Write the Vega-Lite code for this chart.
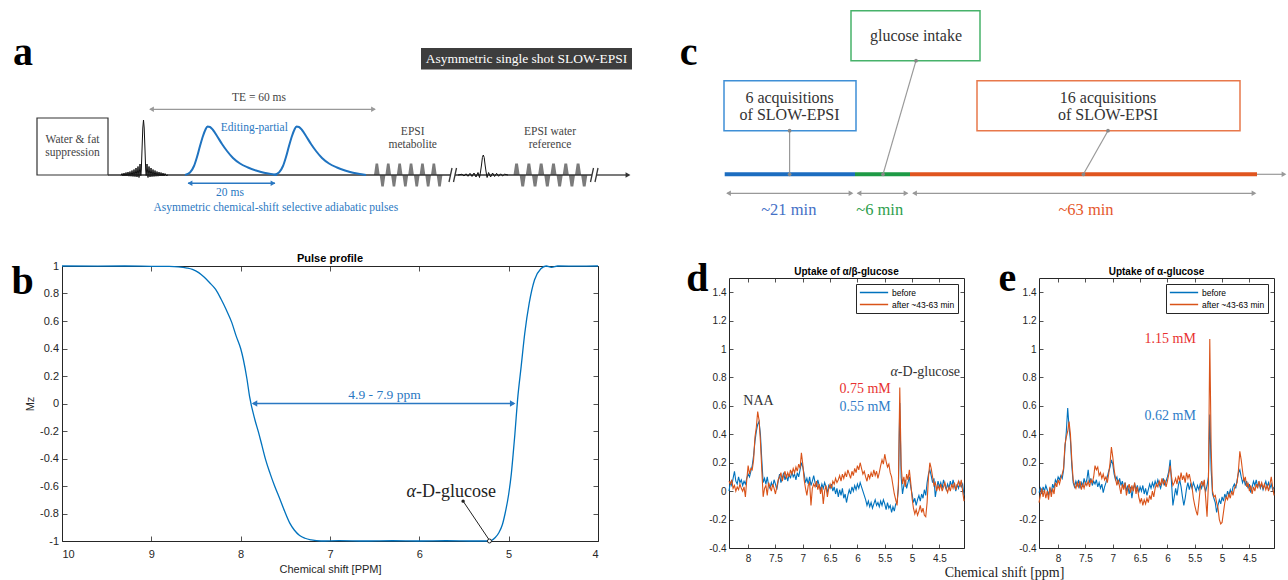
{
  "$schema": "https://vega.github.io/schema/vega-lite/v6.json",
  "padding": 0,
  "background": "white",
  "bounds": "flush",
  "spacing": 36,
  "resolve": {"scale": {"color": "independent", "stroke": "independent", "fill": "independent", "shape": "independent"}, "legend": {"color": "independent"}},
  "config": {
    "view": {"stroke": "#262626", "strokeWidth": 1},
    "axis": {"grid": false, "domain": false, "tickSize": -5, "tickWidth": 0.8, "tickColor": "#262626", "labelColor": "#262626", "labelFont": "Liberation Sans", "titleFont": "Liberation Sans", "titleFontWeight": "normal", "titleColor": "#262626"},
    "title": {"font": "Liberation Sans", "fontWeight": "bold", "color": "#000000", "anchor": "middle"}
  },
  "datasets": {
    "specD": [
      {"ppm":8.35,"before":0.0,"after":0.07},{"ppm":8.325,"before":0.06,"after":0.05},{"ppm":8.3,"before":0.04,"after":0.08},{"ppm":8.275,"before":0.09,"after":0.02},{"ppm":8.25,"before":0.14,"after":0.04},{"ppm":8.225,"before":0.07,"after":0.0},{"ppm":8.2,"before":0.05,"after":0.03},{"ppm":8.175,"before":0.1,"after":0.01},{"ppm":8.15,"before":0.06,"after":0.05},{"ppm":8.125,"before":0.08,"after":0.02},{"ppm":8.1,"before":0.04,"after":0.0},{"ppm":8.075,"before":0.07,"after":0.03},{"ppm":8.05,"before":0.05,"after":-0.04},{"ppm":8.025,"before":0.09,"after":0.08},{"ppm":8.0,"before":0.12,"after":0.18},{"ppm":7.975,"before":0.1,"after":0.12},{"ppm":7.95,"before":0.14,"after":0.16},{"ppm":7.925,"before":0.18,"after":0.15},{"ppm":7.9,"before":0.25,"after":0.22},{"ppm":7.875,"before":0.35,"after":0.38},{"ppm":7.85,"before":0.42,"after":0.45},{"ppm":7.825,"before":0.47,"after":0.56},{"ppm":7.8,"before":0.49,"after":0.5},{"ppm":7.775,"before":0.4,"after":0.35},{"ppm":7.75,"before":0.22,"after":0.15},{"ppm":7.725,"before":0.06,"after":-0.04},{"ppm":7.7,"before":0.09,"after":0.02},{"ppm":7.675,"before":0.05,"after":0.04},{"ppm":7.65,"before":0.1,"after":-0.03},{"ppm":7.625,"before":0.04,"after":0.06},{"ppm":7.6,"before":0.02,"after":0.03},{"ppm":7.575,"before":0.06,"after":0.0},{"ppm":7.55,"before":0.03,"after":0.05},{"ppm":7.525,"before":0.08,"after":0.02},{"ppm":7.5,"before":0.05,"after":-0.02},{"ppm":7.475,"before":0.01,"after":0.03},{"ppm":7.45,"before":0.07,"after":0.08},{"ppm":7.425,"before":0.12,"after":0.1},{"ppm":7.4,"before":0.06,"after":0.13},{"ppm":7.375,"before":0.09,"after":0.07},{"ppm":7.35,"before":0.13,"after":0.11},{"ppm":7.325,"before":0.08,"after":0.14},{"ppm":7.3,"before":0.11,"after":0.09},{"ppm":7.275,"before":0.07,"after":0.13},{"ppm":7.25,"before":0.12,"after":0.1},{"ppm":7.225,"before":0.09,"after":0.15},{"ppm":7.2,"before":0.14,"after":0.12},{"ppm":7.175,"before":0.1,"after":0.16},{"ppm":7.15,"before":0.12,"after":0.13},{"ppm":7.125,"before":0.08,"after":0.17},{"ppm":7.1,"before":0.13,"after":0.14},{"ppm":7.075,"before":0.1,"after":0.19},{"ppm":7.05,"before":0.15,"after":0.16},{"ppm":7.025,"before":0.2,"after":0.27},{"ppm":7.0,"before":0.17,"after":0.19},{"ppm":6.975,"before":0.12,"after":0.08},{"ppm":6.95,"before":0.06,"after":0.02},{"ppm":6.925,"before":0.09,"after":-0.03},{"ppm":6.9,"before":0.05,"after":0.04},{"ppm":6.875,"before":0.1,"after":0.06},{"ppm":6.85,"before":0.04,"after":-0.1},{"ppm":6.825,"before":0.07,"after":0.02},{"ppm":6.8,"before":0.11,"after":0.05},{"ppm":6.775,"before":0.06,"after":0.03},{"ppm":6.75,"before":0.03,"after":0.07},{"ppm":6.725,"before":0.08,"after":0.01},{"ppm":6.7,"before":0.04,"after":0.05},{"ppm":6.675,"before":0.01,"after":-0.02},{"ppm":6.65,"before":0.05,"after":0.03},{"ppm":6.625,"before":0.02,"after":-0.09},{"ppm":6.6,"before":0.06,"after":0.0},{"ppm":6.575,"before":0.03,"after":0.04},{"ppm":6.55,"before":-0.01,"after":-0.04},{"ppm":6.525,"before":0.04,"after":0.02},{"ppm":6.5,"before":0.02,"after":0.05},{"ppm":6.475,"before":0.05,"after":0.02},{"ppm":6.45,"before":0.0,"after":0.07},{"ppm":6.425,"before":0.03,"after":0.05},{"ppm":6.4,"before":-0.02,"after":0.09},{"ppm":6.375,"before":0.02,"after":0.06},{"ppm":6.35,"before":-0.04,"after":0.08},{"ppm":6.325,"before":0.01,"after":0.11},{"ppm":6.3,"before":-0.03,"after":0.07},{"ppm":6.275,"before":0.02,"after":0.12},{"ppm":6.25,"before":-0.05,"after":0.09},{"ppm":6.225,"before":-0.02,"after":0.13},{"ppm":6.2,"before":-0.08,"after":0.1},{"ppm":6.175,"before":-0.03,"after":0.15},{"ppm":6.15,"before":0.01,"after":0.12},{"ppm":6.125,"before":-0.02,"after":0.09},{"ppm":6.1,"before":0.03,"after":0.14},{"ppm":6.075,"before":0.0,"after":0.11},{"ppm":6.05,"before":0.04,"after":0.16},{"ppm":6.025,"before":0.01,"after":0.13},{"ppm":6.0,"before":0.05,"after":0.18},{"ppm":5.975,"before":0.02,"after":0.15},{"ppm":5.95,"before":0.06,"after":0.2},{"ppm":5.925,"before":0.03,"after":0.16},{"ppm":5.9,"before":0.0,"after":0.12},{"ppm":5.875,"before":-0.03,"after":0.14},{"ppm":5.85,"before":-0.06,"after":0.1},{"ppm":5.825,"before":-0.1,"after":0.07},{"ppm":5.8,"before":-0.07,"after":0.12},{"ppm":5.775,"before":-0.11,"after":0.09},{"ppm":5.75,"before":-0.08,"after":0.13},{"ppm":5.725,"before":-0.12,"after":0.1},{"ppm":5.7,"before":-0.09,"after":0.15},{"ppm":5.675,"before":-0.06,"after":0.11},{"ppm":5.65,"before":-0.1,"after":0.14},{"ppm":5.625,"before":-0.08,"after":0.09},{"ppm":5.6,"before":-0.11,"after":0.13},{"ppm":5.575,"before":-0.07,"after":0.18},{"ppm":5.55,"before":-0.1,"after":0.22},{"ppm":5.525,"before":-0.06,"after":0.19},{"ppm":5.5,"before":-0.09,"after":0.26},{"ppm":5.475,"before":-0.13,"after":0.21},{"ppm":5.45,"before":-0.08,"after":0.17},{"ppm":5.425,"before":-0.12,"after":0.19},{"ppm":5.4,"before":-0.1,"after":0.13},{"ppm":5.375,"before":-0.15,"after":0.1},{"ppm":5.35,"before":-0.11,"after":0.04},{"ppm":5.325,"before":-0.14,"after":-0.02},{"ppm":5.3,"before":-0.09,"after":-0.06},{"ppm":5.275,"before":-0.08,"after":-0.1},{"ppm":5.25,"before":0.02,"after":0.05},{"ppm":5.225,"before":0.62,"after":0.73},{"ppm":5.2,"before":0.1,"after":0.18},{"ppm":5.175,"before":-0.02,"after":0.05},{"ppm":5.15,"before":0.04,"after":0.1},{"ppm":5.125,"before":0.08,"after":0.03},{"ppm":5.1,"before":0.02,"after":0.12},{"ppm":5.075,"before":0.06,"after":0.08},{"ppm":5.05,"before":0.1,"after":0.15},{"ppm":5.025,"before":0.03,"after":0.06},{"ppm":5.0,"before":-0.02,"after":-0.05},{"ppm":4.975,"before":-0.08,"after":-0.12},{"ppm":4.95,"before":-0.05,"after":-0.16},{"ppm":4.925,"before":-0.1,"after":-0.13},{"ppm":4.9,"before":-0.06,"after":-0.17},{"ppm":4.875,"before":-0.03,"after":-0.14},{"ppm":4.85,"before":-0.07,"after":-0.1},{"ppm":4.825,"before":-0.02,"after":-0.15},{"ppm":4.8,"before":-0.05,"after":-0.12},{"ppm":4.775,"before":0.01,"after":-0.17},{"ppm":4.75,"before":-0.03,"after":-0.18},{"ppm":4.725,"before":0.06,"after":-0.08},{"ppm":4.7,"before":0.12,"after":0.1},{"ppm":4.675,"before":0.15,"after":0.2},{"ppm":4.65,"before":0.11,"after":0.16},{"ppm":4.625,"before":0.06,"after":0.1},{"ppm":4.6,"before":0.09,"after":0.04},{"ppm":4.575,"before":-0.04,"after":0.06},{"ppm":4.55,"before":0.02,"after":0.0},{"ppm":4.525,"before":0.07,"after":0.04},{"ppm":4.5,"before":0.03,"after":0.01},{"ppm":4.475,"before":0.06,"after":0.05},{"ppm":4.45,"before":0.02,"after":0.0},{"ppm":4.425,"before":0.08,"after":0.03},{"ppm":4.4,"before":0.04,"after":0.06},{"ppm":4.375,"before":0.01,"after":0.02},{"ppm":4.35,"before":0.05,"after":-0.01},{"ppm":4.325,"before":0.02,"after":0.03},{"ppm":4.3,"before":0.07,"after":0.0},{"ppm":4.275,"before":0.03,"after":0.05},{"ppm":4.25,"before":0.08,"after":0.02},{"ppm":4.225,"before":0.04,"after":0.06},{"ppm":4.2,"before":0.0,"after":0.01},{"ppm":4.175,"before":0.05,"after":0.04},{"ppm":4.15,"before":0.02,"after":0.07},{"ppm":4.125,"before":0.06,"after":0.03},{"ppm":4.1,"before":0.03,"after":0.08},{"ppm":4.075,"before":0.05,"after":0.0},{"ppm":4.05,"before":-0.03,"after":-0.07}
    ],
    "specE": [
      {"ppm":8.35,"before":-0.01,"after":-0.08},{"ppm":8.325,"before":0.02,"after":-0.03},{"ppm":8.3,"before":-0.02,"after":0.02},{"ppm":8.275,"before":0.03,"after":-0.04},{"ppm":8.25,"before":0.0,"after":0.01},{"ppm":8.225,"before":0.04,"after":-0.05},{"ppm":8.2,"before":0.01,"after":0.0},{"ppm":8.175,"before":-0.03,"after":-0.06},{"ppm":8.15,"before":0.02,"after":0.03},{"ppm":8.125,"before":-0.01,"after":-0.04},{"ppm":8.1,"before":0.05,"after":0.02},{"ppm":8.075,"before":0.02,"after":-0.02},{"ppm":8.05,"before":0.08,"after":0.06},{"ppm":8.025,"before":0.06,"after":0.03},{"ppm":8.0,"before":0.1,"after":0.08},{"ppm":7.975,"before":0.08,"after":0.05},{"ppm":7.95,"before":0.11,"after":0.09},{"ppm":7.925,"before":0.09,"after":0.12},{"ppm":7.9,"before":0.15,"after":0.16},{"ppm":7.875,"before":0.3,"after":0.33},{"ppm":7.85,"before":0.42,"after":0.38},{"ppm":7.825,"before":0.585,"after":0.42},{"ppm":7.8,"before":0.45,"after":0.49},{"ppm":7.775,"before":0.36,"after":0.4},{"ppm":7.75,"before":0.18,"after":0.22},{"ppm":7.725,"before":0.06,"after":0.08},{"ppm":7.7,"before":0.03,"after":0.04},{"ppm":7.675,"before":0.07,"after":0.02},{"ppm":7.65,"before":0.04,"after":0.06},{"ppm":7.625,"before":0.08,"after":0.03},{"ppm":7.6,"before":0.02,"after":0.07},{"ppm":7.575,"before":0.06,"after":0.01},{"ppm":7.55,"before":0.03,"after":0.05},{"ppm":7.525,"before":0.09,"after":0.02},{"ppm":7.5,"before":0.05,"after":0.06},{"ppm":7.475,"before":0.08,"after":0.04},{"ppm":7.45,"before":0.15,"after":0.07},{"ppm":7.425,"before":0.06,"after":0.03},{"ppm":7.4,"before":0.09,"after":0.08},{"ppm":7.375,"before":0.04,"after":0.06},{"ppm":7.35,"before":0.07,"after":0.1},{"ppm":7.325,"before":0.05,"after":0.18},{"ppm":7.3,"before":0.08,"after":0.15},{"ppm":7.275,"before":0.03,"after":0.17},{"ppm":7.25,"before":0.06,"after":0.11},{"ppm":7.225,"before":0.02,"after":0.13},{"ppm":7.2,"before":0.05,"after":0.09},{"ppm":7.175,"before":-0.01,"after":0.12},{"ppm":7.15,"before":0.03,"after":0.08},{"ppm":7.125,"before":0.06,"after":0.1},{"ppm":7.1,"before":0.1,"after":0.06},{"ppm":7.075,"before":0.14,"after":0.12},{"ppm":7.05,"before":0.17,"after":0.2},{"ppm":7.025,"before":0.22,"after":0.31},{"ppm":7.0,"before":0.19,"after":0.24},{"ppm":6.975,"before":0.12,"after":0.15},{"ppm":6.95,"before":0.08,"after":0.09},{"ppm":6.925,"before":0.1,"after":0.04},{"ppm":6.9,"before":0.05,"after":0.08},{"ppm":6.875,"before":0.09,"after":0.03},{"ppm":6.85,"before":0.04,"after":-0.02},{"ppm":6.825,"before":0.07,"after":0.05},{"ppm":6.8,"before":0.02,"after":0.01},{"ppm":6.775,"before":0.06,"after":0.06},{"ppm":6.75,"before":0.0,"after":-0.03},{"ppm":6.725,"before":0.04,"after":0.02},{"ppm":6.7,"before":-0.02,"after":0.05},{"ppm":6.675,"before":0.03,"after":-0.01},{"ppm":6.65,"before":-0.05,"after":0.04},{"ppm":6.625,"before":0.02,"after":0.0},{"ppm":6.6,"before":0.05,"after":0.06},{"ppm":6.575,"before":0.01,"after":-0.02},{"ppm":6.55,"before":0.04,"after":0.03},{"ppm":6.525,"before":-0.01,"after":-0.04},{"ppm":6.5,"before":0.03,"after":-0.08},{"ppm":6.475,"before":0.0,"after":-0.05},{"ppm":6.45,"before":0.04,"after":-0.1},{"ppm":6.425,"before":-0.02,"after":-0.06},{"ppm":6.4,"before":0.02,"after":-0.09},{"ppm":6.375,"before":-0.03,"after":-0.05},{"ppm":6.35,"before":0.01,"after":-0.08},{"ppm":6.325,"before":0.05,"after":-0.03},{"ppm":6.3,"before":0.02,"after":-0.06},{"ppm":6.275,"before":0.06,"after":0.0},{"ppm":6.25,"before":0.03,"after":-0.04},{"ppm":6.225,"before":0.07,"after":0.02},{"ppm":6.2,"before":0.04,"after":0.05},{"ppm":6.175,"before":0.08,"after":0.03},{"ppm":6.15,"before":0.05,"after":0.07},{"ppm":6.125,"before":0.02,"after":0.04},{"ppm":6.1,"before":0.06,"after":0.09},{"ppm":6.075,"before":0.09,"after":0.05},{"ppm":6.05,"before":0.04,"after":0.08},{"ppm":6.025,"before":0.07,"after":0.03},{"ppm":6.0,"before":0.1,"after":0.07},{"ppm":5.975,"before":0.14,"after":0.12},{"ppm":5.95,"before":0.22,"after":0.18},{"ppm":5.925,"before":0.06,"after":0.1},{"ppm":5.9,"before":-0.1,"after":0.04},{"ppm":5.875,"before":-0.04,"after":0.06},{"ppm":5.85,"before":0.02,"after":0.09},{"ppm":5.825,"before":-0.03,"after":0.05},{"ppm":5.8,"before":0.04,"after":0.11},{"ppm":5.775,"before":0.08,"after":0.07},{"ppm":5.75,"before":0.03,"after":0.13},{"ppm":5.725,"before":-0.04,"after":0.08},{"ppm":5.7,"before":-0.1,"after":0.11},{"ppm":5.675,"before":-0.05,"after":0.06},{"ppm":5.65,"before":0.02,"after":0.13},{"ppm":5.625,"before":0.06,"after":0.09},{"ppm":5.6,"before":0.01,"after":0.12},{"ppm":5.575,"before":0.05,"after":0.07},{"ppm":5.55,"before":0.02,"after":0.03},{"ppm":5.525,"before":0.06,"after":-0.05},{"ppm":5.5,"before":0.03,"after":-0.1},{"ppm":5.475,"before":0.0,"after":-0.14},{"ppm":5.45,"before":0.04,"after":-0.17},{"ppm":5.425,"before":0.01,"after":-0.08},{"ppm":5.4,"before":0.05,"after":0.02},{"ppm":5.375,"before":0.02,"after":0.07},{"ppm":5.35,"before":0.06,"after":0.04},{"ppm":5.325,"before":0.03,"after":0.08},{"ppm":5.3,"before":0.0,"after":-0.05},{"ppm":5.275,"before":0.04,"after":-0.18},{"ppm":5.25,"before":0.1,"after":0.05},{"ppm":5.225,"before":0.54,"after":1.07},{"ppm":5.2,"before":0.15,"after":0.3},{"ppm":5.175,"before":-0.02,"after":0.0},{"ppm":5.15,"before":-0.05,"after":-0.04},{"ppm":5.125,"before":-0.08,"after":-0.03},{"ppm":5.1,"before":-0.15,"after":-0.08},{"ppm":5.075,"before":-0.1,"after":-0.12},{"ppm":5.05,"before":-0.06,"after":-0.2},{"ppm":5.025,"before":-0.09,"after":-0.23},{"ppm":5.0,"before":-0.04,"after":-0.22},{"ppm":4.975,"before":-0.07,"after":-0.15},{"ppm":4.95,"before":-0.02,"after":-0.08},{"ppm":4.925,"before":-0.05,"after":-0.04},{"ppm":4.9,"before":0.0,"after":-0.06},{"ppm":4.875,"before":-0.03,"after":-0.02},{"ppm":4.85,"before":0.01,"after":-0.05},{"ppm":4.825,"before":-0.02,"after":0.0},{"ppm":4.8,"before":0.03,"after":-0.03},{"ppm":4.775,"before":0.05,"after":0.02},{"ppm":4.75,"before":0.02,"after":0.04},{"ppm":4.725,"before":0.08,"after":0.06},{"ppm":4.7,"before":0.13,"after":0.15},{"ppm":4.675,"before":0.15,"after":0.28},{"ppm":4.65,"before":0.1,"after":0.22},{"ppm":4.625,"before":0.06,"after":0.14},{"ppm":4.6,"before":0.09,"after":0.07},{"ppm":4.575,"before":0.04,"after":0.1},{"ppm":4.55,"before":0.07,"after":0.03},{"ppm":4.525,"before":0.02,"after":0.06},{"ppm":4.5,"before":0.05,"after":0.0},{"ppm":4.475,"before":-0.01,"after":0.04},{"ppm":4.45,"before":0.03,"after":-0.02},{"ppm":4.425,"before":0.07,"after":0.03},{"ppm":4.4,"before":0.04,"after":0.0},{"ppm":4.375,"before":0.08,"after":0.05},{"ppm":4.35,"before":0.03,"after":0.02},{"ppm":4.325,"before":0.06,"after":0.07},{"ppm":4.3,"before":0.02,"after":0.03},{"ppm":4.275,"before":0.05,"after":0.06},{"ppm":4.25,"before":0.01,"after":0.02},{"ppm":4.225,"before":0.04,"after":0.05},{"ppm":4.2,"before":0.07,"after":0.01},{"ppm":4.175,"before":0.03,"after":0.04},{"ppm":4.15,"before":0.06,"after":0.0},{"ppm":4.125,"before":0.02,"after":0.05},{"ppm":4.1,"before":0.05,"after":0.1},{"ppm":4.075,"before":0.01,"after":0.03},{"ppm":4.05,"before":0.03,"after":-0.03}
    ]
  },
  "vconcat": [
    {
      "width": 1288,
      "height": 230,
      "view": {"stroke": null},
      "encoding": {
        "x": {"field": "x", "type": "quantitative", "scale": {"domain": [0, 1288], "nice": false, "zero": false}, "axis": null},
        "y": {"field": "y", "type": "quantitative", "scale": {"domain": [0, 230], "reverse": true, "nice": false, "zero": false}, "axis": null}
      },
      "layer": [
        {"data": {"values": [{"x": 421, "x2": 632, "y": 48, "y2": 69.5}]}, "mark": {"type": "rect", "fill": "#3d3d3d"}, "encoding": {"x2": {"field": "x2"}, "y2": {"field": "y2"}}},
        {"data": {"values": [{"x": 37, "x2": 108, "y": 118, "y2": 175}]}, "mark": {"type": "rect", "fill": "white", "stroke": "#333333", "strokeWidth": 1.2}, "encoding": {"x2": {"field": "x2"}, "y2": {"field": "y2"}}},
        {"data": {"values": [{"phase": "before", "x": 724, "x2": 856, "y": 80.7, "y2": 130.7}, {"phase": "intake", "x": 851, "x2": 980, "y": 10.7, "y2": 60.7}, {"phase": "after", "x": 977, "x2": 1240, "y": 80.7, "y2": 130.7}]},
         "mark": {"type": "rect", "fill": "white", "strokeWidth": 1.5},
         "encoding": {"x2": {"field": "x2"}, "y2": {"field": "y2"}, "stroke": {"field": "phase", "type": "nominal", "scale": {"domain": ["before", "intake", "after"], "range": ["#3F8FD6", "#47B26A", "#E8784B"]}, "legend": null}}},
        {"data": {"values": [{"block": "metabolite", "x": 374, "y": 175}, {"block": "metabolite", "x": 375.6, "y": 163.5}, {"block": "metabolite", "x": 378.1, "y": 163.5}, {"block": "metabolite", "x": 379.7, "y": 175}, {"block": "metabolite", "x": 381.3, "y": 186.5}, {"block": "metabolite", "x": 383.8, "y": 186.5}, {"block": "metabolite", "x": 385.4, "y": 175}, {"block": "metabolite", "x": 387.0, "y": 163.5}, {"block": "metabolite", "x": 389.5, "y": 163.5}, {"block": "metabolite", "x": 391.1, "y": 175}, {"block": "metabolite", "x": 392.7, "y": 186.5}, {"block": "metabolite", "x": 395.2, "y": 186.5}, {"block": "metabolite", "x": 396.8, "y": 175}, {"block": "metabolite", "x": 398.4, "y": 163.5}, {"block": "metabolite", "x": 400.9, "y": 163.5}, {"block": "metabolite", "x": 402.5, "y": 175}, {"block": "metabolite", "x": 404.1, "y": 186.5}, {"block": "metabolite", "x": 406.6, "y": 186.5}, {"block": "metabolite", "x": 408.2, "y": 175}, {"block": "metabolite", "x": 409.8, "y": 163.5}, {"block": "metabolite", "x": 412.3, "y": 163.5}, {"block": "metabolite", "x": 413.9, "y": 175}, {"block": "metabolite", "x": 415.5, "y": 186.5}, {"block": "metabolite", "x": 418.0, "y": 186.5}, {"block": "metabolite", "x": 419.6, "y": 175}, {"block": "metabolite", "x": 421.2, "y": 163.5}, {"block": "metabolite", "x": 423.7, "y": 163.5}, {"block": "metabolite", "x": 425.3, "y": 175}, {"block": "metabolite", "x": 426.9, "y": 186.5}, {"block": "metabolite", "x": 429.4, "y": 186.5}, {"block": "metabolite", "x": 431.0, "y": 175}, {"block": "metabolite", "x": 432.6, "y": 163.5}, {"block": "metabolite", "x": 435.1, "y": 163.5}, {"block": "metabolite", "x": 436.7, "y": 175}, {"block": "metabolite", "x": 438.3, "y": 186.5}, {"block": "metabolite", "x": 440.8, "y": 186.5}, {"block": "metabolite", "x": 442.4, "y": 175},
          {"block": "water", "x": 513.5, "y": 175}, {"block": "water", "x": 515.2, "y": 163.5}, {"block": "water", "x": 517.95, "y": 163.5}, {"block": "water", "x": 519.65, "y": 175}, {"block": "water", "x": 521.35, "y": 186.5}, {"block": "water", "x": 524.1, "y": 186.5}, {"block": "water", "x": 525.8, "y": 175}, {"block": "water", "x": 527.5, "y": 163.5}, {"block": "water", "x": 530.25, "y": 163.5}, {"block": "water", "x": 531.95, "y": 175}, {"block": "water", "x": 533.65, "y": 186.5}, {"block": "water", "x": 536.4, "y": 186.5}, {"block": "water", "x": 538.1, "y": 175}, {"block": "water", "x": 539.8, "y": 163.5}, {"block": "water", "x": 542.55, "y": 163.5}, {"block": "water", "x": 544.25, "y": 175}, {"block": "water", "x": 545.95, "y": 186.5}, {"block": "water", "x": 548.7, "y": 186.5}, {"block": "water", "x": 550.4, "y": 175}, {"block": "water", "x": 552.1, "y": 163.5}, {"block": "water", "x": 554.85, "y": 163.5}, {"block": "water", "x": 556.55, "y": 175}, {"block": "water", "x": 558.25, "y": 186.5}, {"block": "water", "x": 561.0, "y": 186.5}, {"block": "water", "x": 562.7, "y": 175}, {"block": "water", "x": 564.4, "y": 163.5}, {"block": "water", "x": 567.15, "y": 163.5}, {"block": "water", "x": 568.85, "y": 175}, {"block": "water", "x": 570.55, "y": 186.5}, {"block": "water", "x": 573.3, "y": 186.5}, {"block": "water", "x": 575.0, "y": 175}, {"block": "water", "x": 576.7, "y": 163.5}, {"block": "water", "x": 579.45, "y": 163.5}, {"block": "water", "x": 581.15, "y": 175}, {"block": "water", "x": 582.85, "y": 186.5}, {"block": "water", "x": 585.6, "y": 186.5}, {"block": "water", "x": 587.3, "y": 175}]},
         "mark": {"type": "area", "color": "#7b7b7b"},
         "encoding": {"y2": {"datum": 175}, "detail": {"field": "block"}}},
        {"data": {"values": [{"x": 108, "y": 175, "x2": 450.5, "y2": 175}, {"x": 455, "y": 175, "x2": 592, "y2": 175}, {"x": 596.5, "y": 175, "x2": 626, "y2": 175}, {"x": 449, "y": 182, "x2": 452, "y2": 168}, {"x": 453.5, "y": 182, "x2": 456.5, "y2": 168}, {"x": 590.5, "y": 182, "x2": 593.5, "y2": 168}, {"x": 595, "y": 182, "x2": 598, "y2": 168}]},
         "mark": {"type": "rule", "color": "#333333", "strokeWidth": 1.3},
         "encoding": {"x2": {"field": "x2"}, "y2": {"field": "y2"}}},
        {"data": {"values": [{"phase": "before", "x": 724.7, "x2": 855, "y": 174.3, "y2": 174.3}, {"phase": "intake", "x": 855, "x2": 910, "y": 174.3, "y2": 174.3}, {"phase": "after", "x": 910, "x2": 1257, "y": 174.3, "y2": 174.3}]},
         "mark": {"type": "rule", "strokeWidth": 4},
         "encoding": {"x2": {"field": "x2"}, "y2": {"field": "y2"}, "color": {"field": "phase", "type": "nominal", "scale": {"domain": ["before", "intake", "after"], "range": ["#1C6DC0", "#1E9A45", "#E0551F"]}, "legend": null}}},
        {"data": {"values": [{"x": 150, "y": 109.3, "x2": 375, "y2": 109.3}, {"x": 727, "y": 193.3, "x2": 852, "y2": 193.3}, {"x": 857.5, "y": 193.3, "x2": 907.5, "y2": 193.3}, {"x": 913, "y": 193.3, "x2": 1255, "y2": 193.3}, {"x": 789.6, "y": 130.7, "x2": 789.6, "y2": 174.3}, {"x": 916, "y": 60.7, "x2": 883, "y2": 174.3}, {"x": 1108, "y": 130.7, "x2": 1083.4, "y2": 174.3}, {"x": 1257, "y": 174.3, "x2": 1283, "y2": 174.3}]},
         "mark": {"type": "rule", "color": "#999999", "strokeWidth": 1.2},
         "encoding": {"x2": {"field": "x2"}, "y2": {"field": "y2"}}},
        {"data": {"values": [{"x": 188, "y": 183.3, "x2": 275, "y2": 183.3}]},
         "mark": {"type": "rule", "color": "#2A78C2", "strokeWidth": 1.5},
         "encoding": {"x2": {"field": "x2"}, "y2": {"field": "y2"}}},
        {"data": {"values": [{"x": 789.6, "y": 130.7}, {"x": 789.6, "y": 174.3}, {"x": 916, "y": 60.7}, {"x": 883, "y": 174.3}, {"x": 1108, "y": 130.7}, {"x": 1083.4, "y": 174.3}]},
         "mark": {"type": "point", "filled": true, "size": 14, "color": "#888888", "opacity": 1}},
        {"data": {"values": [{"x": 628, "y": 175, "dir": "right"}]},
         "mark": {"type": "point", "filled": true, "size": 32, "color": "#333333", "opacity": 1},
         "encoding": {"shape": {"field": "dir", "type": "nominal", "scale": {"domain": ["left", "right"], "range": ["triangle-left", "triangle-right"]}, "legend": null}}},
        {"data": {"values": [{"x": 151.5, "y": 109.3, "dir": "left"}, {"x": 373.5, "y": 109.3, "dir": "right"}, {"x": 728.5, "y": 193.3, "dir": "left"}, {"x": 851, "y": 193.3, "dir": "right"}, {"x": 859, "y": 193.3, "dir": "left"}, {"x": 906, "y": 193.3, "dir": "right"}, {"x": 914.5, "y": 193.3, "dir": "left"}, {"x": 1254, "y": 193.3, "dir": "right"}, {"x": 1284, "y": 174.3, "dir": "right"}]},
         "mark": {"type": "point", "filled": true, "size": 30, "color": "#999999", "opacity": 1},
         "encoding": {"shape": {"field": "dir", "type": "nominal", "scale": {"domain": ["left", "right"], "range": ["triangle-left", "triangle-right"]}, "legend": null}}},
        {"data": {"values": [{"x": 190, "y": 183.3, "dir": "left"}, {"x": 273, "y": 183.3, "dir": "right"}]},
         "mark": {"type": "point", "filled": true, "size": 30, "color": "#2A78C2", "opacity": 1},
         "encoding": {"shape": {"field": "dir", "type": "nominal", "scale": {"domain": ["left", "right"], "range": ["triangle-left", "triangle-right"]}, "legend": null}}},
        {"data": {"values": [
          {"pulse": "excitation", "x": 121, "y": 175.5}, {"pulse": "excitation", "x": 122, "y": 173.5}, {"pulse": "excitation", "x": 123, "y": 176}, {"pulse": "excitation", "x": 124, "y": 173}, {"pulse": "excitation", "x": 125, "y": 176}, {"pulse": "excitation", "x": 126, "y": 172.5}, {"pulse": "excitation", "x": 127, "y": 176}, {"pulse": "excitation", "x": 128, "y": 172}, {"pulse": "excitation", "x": 129, "y": 176.2}, {"pulse": "excitation", "x": 130, "y": 171.5}, {"pulse": "excitation", "x": 131, "y": 176.3}, {"pulse": "excitation", "x": 132, "y": 170.5}, {"pulse": "excitation", "x": 133, "y": 176.5}, {"pulse": "excitation", "x": 134, "y": 169.5}, {"pulse": "excitation", "x": 135, "y": 176.7}, {"pulse": "excitation", "x": 136, "y": 168}, {"pulse": "excitation", "x": 137, "y": 177}, {"pulse": "excitation", "x": 138, "y": 166.5}, {"pulse": "excitation", "x": 139, "y": 177.5}, {"pulse": "excitation", "x": 140, "y": 164}, {"pulse": "excitation", "x": 140.8, "y": 175.5}, {"pulse": "excitation", "x": 141.3, "y": 170}, {"pulse": "excitation", "x": 142, "y": 150}, {"pulse": "excitation", "x": 142.8, "y": 128}, {"pulse": "excitation", "x": 143.5, "y": 120}, {"pulse": "excitation", "x": 144.2, "y": 128}, {"pulse": "excitation", "x": 145, "y": 150}, {"pulse": "excitation", "x": 145.7, "y": 170}, {"pulse": "excitation", "x": 146.2, "y": 175.5}, {"pulse": "excitation", "x": 147, "y": 164}, {"pulse": "excitation", "x": 148, "y": 177.5}, {"pulse": "excitation", "x": 149, "y": 166.5}, {"pulse": "excitation", "x": 150, "y": 177}, {"pulse": "excitation", "x": 151, "y": 168}, {"pulse": "excitation", "x": 152, "y": 176.7}, {"pulse": "excitation", "x": 153, "y": 169.5}, {"pulse": "excitation", "x": 154, "y": 176.5}, {"pulse": "excitation", "x": 155, "y": 170.5}, {"pulse": "excitation", "x": 156, "y": 176.3}, {"pulse": "excitation", "x": 157, "y": 171.5}, {"pulse": "excitation", "x": 158, "y": 176.2}, {"pulse": "excitation", "x": 159, "y": 172}, {"pulse": "excitation", "x": 160, "y": 176}, {"pulse": "excitation", "x": 161, "y": 172.5}, {"pulse": "excitation", "x": 162, "y": 176}, {"pulse": "excitation", "x": 163, "y": 173}, {"pulse": "excitation", "x": 164, "y": 176}, {"pulse": "excitation", "x": 165, "y": 173.5}, {"pulse": "excitation", "x": 166, "y": 175.5}, {"pulse": "excitation", "x": 168, "y": 175},
          {"pulse": "water", "x": 458, "y": 175}, {"pulse": "water", "x": 462, "y": 174.2}, {"pulse": "water", "x": 464, "y": 176}, {"pulse": "water", "x": 466, "y": 173.8}, {"pulse": "water", "x": 468, "y": 176.3}, {"pulse": "water", "x": 470, "y": 173.3}, {"pulse": "water", "x": 472, "y": 176.5}, {"pulse": "water", "x": 474, "y": 173}, {"pulse": "water", "x": 476, "y": 177}, {"pulse": "water", "x": 478, "y": 172.5}, {"pulse": "water", "x": 479.5, "y": 177.5}, {"pulse": "water", "x": 480.5, "y": 172}, {"pulse": "water", "x": 481.5, "y": 165}, {"pulse": "water", "x": 482.4, "y": 157.5}, {"pulse": "water", "x": 483.3, "y": 155}, {"pulse": "water", "x": 484.2, "y": 157.5}, {"pulse": "water", "x": 485.1, "y": 165}, {"pulse": "water", "x": 486.1, "y": 172}, {"pulse": "water", "x": 487.1, "y": 177.5}, {"pulse": "water", "x": 488.6, "y": 172.5}, {"pulse": "water", "x": 490.6, "y": 177}, {"pulse": "water", "x": 492.6, "y": 173}, {"pulse": "water", "x": 494.6, "y": 176.5}, {"pulse": "water", "x": 496.6, "y": 173.3}, {"pulse": "water", "x": 498.6, "y": 176.3}, {"pulse": "water", "x": 500.6, "y": 173.8}, {"pulse": "water", "x": 502.6, "y": 176}, {"pulse": "water", "x": 504.6, "y": 174.2}, {"pulse": "water", "x": 508, "y": 175}]},
         "mark": {"type": "line", "color": "#111111", "strokeWidth": 1},
         "encoding": {"detail": {"field": "pulse"}}},
        {"data": {"values": [
          {"pulse": "first", "x": 185, "y": 175}, {"pulse": "first", "x": 190, "y": 172.5}, {"pulse": "first", "x": 194, "y": 166}, {"pulse": "first", "x": 197, "y": 157}, {"pulse": "first", "x": 200, "y": 146}, {"pulse": "first", "x": 203, "y": 136}, {"pulse": "first", "x": 205.5, "y": 129.5}, {"pulse": "first", "x": 207.5, "y": 126.5}, {"pulse": "first", "x": 210, "y": 127}, {"pulse": "first", "x": 213, "y": 130}, {"pulse": "first", "x": 217, "y": 136}, {"pulse": "first", "x": 222, "y": 144}, {"pulse": "first", "x": 227, "y": 151}, {"pulse": "first", "x": 233, "y": 158}, {"pulse": "first", "x": 240, "y": 163.5}, {"pulse": "first", "x": 248, "y": 167.5}, {"pulse": "first", "x": 256, "y": 170.5}, {"pulse": "first", "x": 264, "y": 172.8}, {"pulse": "first", "x": 274, "y": 174.5}, {"pulse": "first", "x": 277, "y": 175},
          {"pulse": "second", "x": 274, "y": 175}, {"pulse": "second", "x": 279, "y": 172.5}, {"pulse": "second", "x": 283, "y": 166}, {"pulse": "second", "x": 286, "y": 157}, {"pulse": "second", "x": 289, "y": 146}, {"pulse": "second", "x": 292, "y": 136}, {"pulse": "second", "x": 294.5, "y": 129.5}, {"pulse": "second", "x": 296.5, "y": 126.5}, {"pulse": "second", "x": 299, "y": 127}, {"pulse": "second", "x": 302, "y": 130}, {"pulse": "second", "x": 306, "y": 136}, {"pulse": "second", "x": 311, "y": 144}, {"pulse": "second", "x": 316, "y": 151}, {"pulse": "second", "x": 322, "y": 158}, {"pulse": "second", "x": 329, "y": 163.5}, {"pulse": "second", "x": 337, "y": 167.5}, {"pulse": "second", "x": 345, "y": 170.5}, {"pulse": "second", "x": 353, "y": 172.8}, {"pulse": "second", "x": 363, "y": 174.5}, {"pulse": "second", "x": 366, "y": 175}]},
         "mark": {"type": "line", "color": "#1F73C0", "strokeWidth": 2, "interpolate": "monotone"},
         "encoding": {"detail": {"field": "pulse"}}},
        {"data": {"values": [{"x": 23, "y": 65, "label": "a"}, {"x": 688.5, "y": 65, "label": "c"}]},
         "mark": {"type": "text", "font": "Liberation Serif", "fontWeight": "bold", "fontSize": 40, "baseline": "alphabetic", "align": "center", "color": "#000000"},
         "encoding": {"text": {"field": "label"}}},
        {"data": {"values": [{"x": 526.5, "y": 59, "label": "Asymmetric single shot SLOW-EPSI"}]},
         "mark": {"type": "text", "font": "Liberation Serif", "fontSize": 13.5, "baseline": "middle", "align": "center", "color": "#ffffff"},
         "encoding": {"text": {"field": "label"}}},
        {"data": {"values": [{"x": 259, "y": 97.5, "label": "TE = 60 ms"}, {"x": 72.5, "y": 140, "label": "Water & fat"}, {"x": 72.5, "y": 153, "label": "suppression"}, {"x": 412.7, "y": 131.5, "label": "EPSI"}, {"x": 412.7, "y": 144.5, "label": "metabolite"}, {"x": 550, "y": 131.5, "label": "EPSI water"}, {"x": 550, "y": 144.5, "label": "reference"}]},
         "mark": {"type": "text", "font": "Liberation Serif", "fontSize": 11.5, "baseline": "middle", "align": "center", "color": "#444444"},
         "encoding": {"text": {"field": "label"}}},
        {"data": {"values": [{"x": 254.3, "y": 128.3, "label": "Editing-partial"}, {"x": 230, "y": 193.3, "label": "20 ms"}, {"x": 275.8, "y": 208.3, "label": "Asymmetric chemical-shift selective adiabatic pulses"}]},
         "mark": {"type": "text", "font": "Liberation Serif", "fontSize": 11.5, "baseline": "middle", "align": "center", "color": "#2A78C2"},
         "encoding": {"text": {"field": "label"}}},
        {"data": {"values": [{"x": 916, "y": 36, "label": "glucose intake"}, {"x": 789.6, "y": 97.7, "label": "6 acquisitions"}, {"x": 789.6, "y": 115, "label": "of SLOW-EPSI"}, {"x": 1108, "y": 97.7, "label": "16 acquisitions"}, {"x": 1108, "y": 115, "label": "of SLOW-EPSI"}]},
         "mark": {"type": "text", "font": "Liberation Serif", "fontSize": 16, "baseline": "middle", "align": "center", "color": "#333333"},
         "encoding": {"text": {"field": "label"}}},
        {"data": {"values": [{"phase": "before", "x": 788.8, "y": 210, "label": "~21 min"}, {"phase": "intake", "x": 879.7, "y": 210, "label": "~6 min"}, {"phase": "after", "x": 1086, "y": 210, "label": "~63 min"}]},
         "mark": {"type": "text", "font": "Liberation Serif", "fontSize": 16.5, "baseline": "middle", "align": "center"},
         "encoding": {"text": {"field": "label"}, "fill": {"field": "phase", "type": "nominal", "scale": {"domain": ["before", "intake", "after"], "range": ["#4470C6", "#2E9E4C", "#E5582C"]}, "legend": null}}}
      ]
    },
    {
      "bounds": "flush",
      "spacing": 0,
      "hconcat": [
        {"width": 62, "height": 275, "view": {"stroke": null}, "data": {"values": []}, "mark": "point"},
        {
          "width": 536,
          "height": 275,
          "title": {"text": "Pulse profile", "fontSize": 11, "offset": -4},
          "layer": [
            {
              "encoding": {
                "x": {"field": "ppm", "type": "quantitative", "scale": {"domain": [4, 10], "reverse": true, "nice": false, "zero": false},
                      "axis": {"orient": "bottom", "values": [4, 5, 6, 7, 8, 9, 10], "format": "d", "title": "Chemical shift [PPM]", "labelFontSize": 11, "titleFontSize": 11, "labelPadding": 12, "titlePadding": 4}},
                "y": {"field": "Mz", "type": "quantitative", "scale": {"domain": [-1, 1], "nice": false, "zero": false},
                      "axis": {"orient": "left", "values": [-1, -0.8, -0.6, -0.4, -0.2, 0, 0.2, 0.4, 0.6, 0.8, 1], "labelExpr": "replace(format(datum.value,'~g'),'−','-')", "title": "Mz", "labelFontSize": 11, "titleFontSize": 11, "labelPadding": 8.5, "titlePadding": 4}}
              },
              "layer": [
                {"data": {"values": [{"ppm":10,"Mz":1},{"ppm":9.6,"Mz":0.999},{"ppm":9.3,"Mz":1},{"ppm":9.0,"Mz":0.998},{"ppm":8.8,"Mz":0.997},{"ppm":8.7,"Mz":0.994},{"ppm":8.6,"Mz":0.985},{"ppm":8.54,"Mz":0.975},{"ppm":8.47,"Mz":0.952},{"ppm":8.41,"Mz":0.92},{"ppm":8.35,"Mz":0.88},{"ppm":8.28,"Mz":0.83},{"ppm":8.22,"Mz":0.76},{"ppm":8.16,"Mz":0.68},{"ppm":8.1,"Mz":0.59},{"ppm":8.05,"Mz":0.49},{"ppm":8.0,"Mz":0.4},{"ppm":7.97,"Mz":0.32},{"ppm":7.93,"Mz":0.18},{"ppm":7.9,"Mz":0.05},{"ppm":7.84,"Mz":-0.12},{"ppm":7.8,"Mz":-0.21},{"ppm":7.76,"Mz":-0.31},{"ppm":7.72,"Mz":-0.41},{"ppm":7.67,"Mz":-0.51},{"ppm":7.62,"Mz":-0.6},{"ppm":7.57,"Mz":-0.68},{"ppm":7.51,"Mz":-0.78},{"ppm":7.45,"Mz":-0.87},{"ppm":7.4,"Mz":-0.92},{"ppm":7.34,"Mz":-0.96},{"ppm":7.28,"Mz":-0.98},{"ppm":7.21,"Mz":-0.992},{"ppm":7.1,"Mz":-1},{"ppm":6.9,"Mz":-0.997},{"ppm":6.6,"Mz":-1},{"ppm":6.3,"Mz":-0.998},{"ppm":6.0,"Mz":-1},{"ppm":5.7,"Mz":-0.998},{"ppm":5.4,"Mz":-1},{"ppm":5.22,"Mz":-1},{"ppm":5.19,"Mz":-0.995},{"ppm":5.15,"Mz":-0.975},{"ppm":5.11,"Mz":-0.94},{"ppm":5.07,"Mz":-0.88},{"ppm":5.04,"Mz":-0.8},{"ppm":5.0,"Mz":-0.66},{"ppm":4.97,"Mz":-0.51},{"ppm":4.95,"Mz":-0.37},{"ppm":4.93,"Mz":-0.22},{"ppm":4.9,"Mz":0.03},{"ppm":4.86,"Mz":0.27},{"ppm":4.82,"Mz":0.51},{"ppm":4.77,"Mz":0.73},{"ppm":4.71,"Mz":0.9},{"ppm":4.64,"Mz":0.98},{"ppm":4.58,"Mz":1},{"ppm":4.52,"Mz":0.99},{"ppm":4.45,"Mz":1},{"ppm":4.2,"Mz":0.999},{"ppm":4,"Mz":1}]},
                 "mark": {"type": "line", "color": "#0072BD", "strokeWidth": 1.3, "interpolate": "monotone"}},
                {"data": {"values": [{"ppm": 7.86, "ppm2": 4.94, "Mz": 0}]},
                 "mark": {"type": "rule", "color": "#2A78C2", "strokeWidth": 1.5},
                 "encoding": {"x2": {"field": "ppm2"}}},
                {"data": {"values": [{"ppm": 7.845, "Mz": 0, "dir": "left"}, {"ppm": 4.955, "Mz": 0, "dir": "right"}]},
                 "mark": {"type": "point", "filled": true, "size": 40, "color": "#2A78C2", "opacity": 1},
                 "encoding": {"shape": {"field": "dir", "type": "nominal", "scale": {"domain": ["left", "right"], "range": ["triangle-left", "triangle-right"]}, "legend": null}}},
                {"data": {"values": [{"ppm": 6.39, "Mz": 0.065, "label": "4.9 - 7.9 ppm"}]},
                 "mark": {"type": "text", "font": "Liberation Serif", "fontSize": 13.5, "baseline": "middle", "align": "center", "color": "#2A78C2"},
                 "encoding": {"text": {"field": "label"}}},
                {"data": {"values": [{"ppm": 5.51, "ppm2": 5.215, "Mz": -0.71, "Mz2": -0.995}]},
                 "mark": {"type": "rule", "color": "#222222", "strokeWidth": 1},
                 "encoding": {"x2": {"field": "ppm2"}, "y2": {"field": "Mz2"}}},
                {"data": {"values": [{"ppm": 5.51, "Mz": -0.71}]},
                 "mark": {"type": "point", "filled": true, "size": 12, "color": "#222222", "opacity": 1}},
                {"data": {"values": [{"ppm": 5.215, "Mz": -1.0}]},
                 "mark": {"type": "point", "filled": true, "size": 16, "fill": "white", "stroke": "#222222", "strokeWidth": 1, "opacity": 1}},
                {"data": {"values": [{"ppm": 6.037, "Mz": -0.647, "label": "α"}]},
                 "mark": {"type": "text", "font": "Liberation Serif", "fontStyle": "italic", "fontSize": 18, "baseline": "middle", "align": "right", "color": "#222222"},
                 "encoding": {"text": {"field": "label"}}},
                {"data": {"values": [{"ppm": 6.037, "Mz": -0.647, "label": "-D-glucose"}]},
                 "mark": {"type": "text", "font": "Liberation Serif", "fontSize": 18, "baseline": "middle", "align": "left", "color": "#222222"},
                 "encoding": {"text": {"field": "label"}}},
                {"data": {"values": [{"ppm": 10.44, "Mz": 0.8, "label": "b"}]},
                 "mark": {"type": "text", "font": "Liberation Serif", "fontWeight": "bold", "fontSize": 40, "baseline": "alphabetic", "align": "center", "color": "#000000"},
                 "encoding": {"text": {"field": "label"}}}
              ]
            },
            {
              "data": {"values": [{"ppm": 7, "Mz": 0}]},
              "mark": {"type": "text", "text": ""},
              "encoding": {
                "x": {"field": "ppm", "type": "quantitative", "scale": {"domain": [4, 10], "reverse": true, "nice": false, "zero": false}, "axis": {"orient": "top", "values": [4, 5, 6, 7, 8, 9, 10], "labels": false, "title": null}},
                "y": {"field": "Mz", "type": "quantitative", "scale": {"domain": [-1, 1], "nice": false, "zero": false}, "axis": {"orient": "right", "values": [-1, -0.8, -0.6, -0.4, -0.2, 0, 0.2, 0.4, 0.6, 0.8, 1], "labels": false, "title": null}}
              }
            }
          ],
          "resolve": {"axis": {"x": "independent", "y": "independent"}}
        },
        {"width": 131, "height": 275, "view": {"stroke": null}, "data": {"values": []}, "mark": "point"},
        {
          "bounds": "flush",
          "spacing": 0,
          "vconcat": [
            {"width": 545, "height": 12, "view": {"stroke": null}, "data": {"values": []}, "mark": "point"},
            {
              "bounds": "flush",
              "spacing": 75,
              "resolve": {"legend": {"color": "independent"}},
              "hconcat": [
                {
                  "width": 235,
                  "height": 270,
                  "title": {"text": "Uptake of α/β-glucose", "fontSize": 10, "offset": -18},
                  "layer": [
                    {
                      "encoding": {
                        "x": {"field": "ppm", "type": "quantitative", "scale": {"domain": [4.05, 8.35], "reverse": true, "nice": false, "zero": false},
                              "axis": {"orient": "bottom", "values": [4.5, 5, 5.5, 6, 6.5, 7, 7.5, 8], "format": "~g", "title": null, "labelFontSize": 10, "tickSize": -4, "labelPadding": 9}},
                        "y": {"field": "value", "type": "quantitative", "scale": {"domain": [-0.4, 1.5], "nice": false, "zero": false},
                              "axis": {"orient": "left", "values": [-0.4, -0.2, 0, 0.2, 0.4, 0.6, 0.8, 1, 1.2, 1.4], "labelExpr": "replace(format(datum.value,'~g'),'−','-')", "title": null, "labelFontSize": 10, "tickSize": -4, "labelPadding": 7}}
                      },
                      "layer": [
                        {"data": {"name": "specD"},
                         "transform": [{"fold": ["before", "after"], "as": ["series", "value"]}, {"filter": "datum.series == 'before'"}],
                         "mark": {"type": "line", "strokeWidth": 1.1},
                         "encoding": {"color": {"field": "series", "type": "nominal", "scale": {"domain": ["before", "after"], "range": ["#0072BD", "#D95319"]},
                           "legend": {"orient": "top-right", "offset": 6, "title": null, "symbolType": "stroke", "symbolSize": 800, "symbolStrokeWidth": 1.5, "clipHeight": 11, "labelFont": "Liberation Sans", "labelFontSize": 8.5, "labelColor": "#000000", "labelExpr": "datum.label == 'after' ? 'after ~43-63 min' : datum.label", "strokeColor": "#262626", "fillColor": "white", "padding": 3, "rowPadding": 1, "labelOffset": 3}}}},
                        {"data": {"name": "specD"},
                         "transform": [{"fold": ["before", "after"], "as": ["series", "value"]}, {"filter": "datum.series == 'after'"}],
                         "mark": {"type": "line", "strokeWidth": 1.1},
                         "encoding": {"color": {"field": "series", "type": "nominal", "scale": {"domain": ["before", "after"], "range": ["#0072BD", "#D95319"]},
                           "legend": {"orient": "top-right", "offset": 6, "title": null, "symbolType": "stroke", "symbolSize": 800, "symbolStrokeWidth": 1.5, "clipHeight": 11, "labelFont": "Liberation Sans", "labelFontSize": 8.5, "labelColor": "#000000", "labelExpr": "datum.label == 'after' ? 'after ~43-63 min' : datum.label", "strokeColor": "#262626", "fillColor": "white", "padding": 3, "rowPadding": 1, "labelOffset": 3}}}},
                        {"data": {"values": [{"ppm": 8.93, "value": 1.41, "label": "d"}]},
                         "mark": {"type": "text", "font": "Liberation Serif", "fontWeight": "bold", "fontSize": 40, "baseline": "alphabetic", "align": "center", "color": "#000000"},
                         "encoding": {"text": {"field": "label"}}},
                        {"data": {"values": [{"ppm": 7.81, "value": 0.635, "label": "NAA"}]},
                         "mark": {"type": "text", "font": "Liberation Serif", "fontSize": 14, "baseline": "middle", "align": "center", "color": "#333333"},
                         "encoding": {"text": {"field": "label"}}},
                        {"data": {"values": [{"ppm": 5.26, "value": 0.84, "label": "α"}]},
                         "mark": {"type": "text", "font": "Liberation Serif", "fontStyle": "italic", "fontSize": 14, "baseline": "middle", "align": "right", "color": "#333333"},
                         "encoding": {"text": {"field": "label"}}},
                        {"data": {"values": [{"ppm": 5.26, "value": 0.84, "label": "-D-glucose"}]},
                         "mark": {"type": "text", "font": "Liberation Serif", "fontSize": 14, "baseline": "middle", "align": "left", "color": "#333333"},
                         "encoding": {"text": {"field": "label"}}},
                        {"data": {"values": [{"ppm": 5.86, "value": 0.72, "label": "0.75 mM"}]},
                         "mark": {"type": "text", "font": "Liberation Serif", "fontSize": 14, "baseline": "middle", "align": "center", "color": "#E8312F"},
                         "encoding": {"text": {"field": "label"}}},
                        {"data": {"values": [{"ppm": 5.86, "value": 0.595, "label": "0.55 mM"}]},
                         "mark": {"type": "text", "font": "Liberation Serif", "fontSize": 14, "baseline": "middle", "align": "center", "color": "#2F7DC8"},
                         "encoding": {"text": {"field": "label"}}}
                      ]
                    },
                    {
                      "data": {"values": [{"ppm": 6, "value": 0}]},
                      "mark": {"type": "text", "text": ""},
                      "encoding": {
                        "x": {"field": "ppm", "type": "quantitative", "scale": {"domain": [4.05, 8.35], "reverse": true, "nice": false, "zero": false}, "axis": {"orient": "top", "values": [4.5, 5, 5.5, 6, 6.5, 7, 7.5, 8], "labels": false, "title": null, "tickSize": -4}},
                        "y": {"field": "value", "type": "quantitative", "scale": {"domain": [-0.4, 1.5], "nice": false, "zero": false}, "axis": {"orient": "right", "values": [-0.4, -0.2, 0, 0.2, 0.4, 0.6, 0.8, 1, 1.2, 1.4], "labels": false, "title": null, "tickSize": -4}}
                      }
                    }
                  ],
                  "resolve": {"axis": {"x": "independent", "y": "independent"}}
                },
                {
                  "width": 235,
                  "height": 270,
                  "title": {"text": "Uptake of α-glucose", "fontSize": 10, "offset": -18},
                  "layer": [
                    {
                      "encoding": {
                        "x": {"field": "ppm", "type": "quantitative", "scale": {"domain": [4.05, 8.35], "reverse": true, "nice": false, "zero": false},
                              "axis": {"orient": "bottom", "values": [4.5, 5, 5.5, 6, 6.5, 7, 7.5, 8], "format": "~g", "title": "Chemical shift [ppm]", "titleFont": "Liberation Serif", "titleFontSize": 14, "titleColor": "#222222", "titleX": -35, "titleY": 24, "titleAlign": "center", "titleBaseline": "middle", "labelFontSize": 10, "tickSize": -4, "labelPadding": 9}},
                        "y": {"field": "value", "type": "quantitative", "scale": {"domain": [-0.4, 1.5], "nice": false, "zero": false},
                              "axis": {"orient": "left", "values": [-0.4, -0.2, 0, 0.2, 0.4, 0.6, 0.8, 1, 1.2, 1.4], "labelExpr": "replace(format(datum.value,'~g'),'−','-')", "title": null, "labelFontSize": 10, "tickSize": -4, "labelPadding": 7}}
                      },
                      "layer": [
                        {"data": {"name": "specE"},
                         "transform": [{"fold": ["before", "after"], "as": ["series", "value"]}, {"filter": "datum.series == 'before'"}],
                         "mark": {"type": "line", "strokeWidth": 1.1},
                         "encoding": {"color": {"field": "series", "type": "nominal", "scale": {"domain": ["before", "after"], "range": ["#0072BD", "#D95319"]},
                           "legend": {"orient": "top-right", "offset": 6, "title": null, "symbolType": "stroke", "symbolSize": 800, "symbolStrokeWidth": 1.5, "clipHeight": 11, "labelFont": "Liberation Sans", "labelFontSize": 8.5, "labelColor": "#000000", "labelExpr": "datum.label == 'after' ? 'after ~43-63 min' : datum.label", "strokeColor": "#262626", "fillColor": "white", "padding": 3, "rowPadding": 1, "labelOffset": 3}}}},
                        {"data": {"name": "specE"},
                         "transform": [{"fold": ["before", "after"], "as": ["series", "value"]}, {"filter": "datum.series == 'after'"}],
                         "mark": {"type": "line", "strokeWidth": 1.1},
                         "encoding": {"color": {"field": "series", "type": "nominal", "scale": {"domain": ["before", "after"], "range": ["#0072BD", "#D95319"]},
                           "legend": {"orient": "top-right", "offset": 6, "title": null, "symbolType": "stroke", "symbolSize": 800, "symbolStrokeWidth": 1.5, "clipHeight": 11, "labelFont": "Liberation Sans", "labelFontSize": 8.5, "labelColor": "#000000", "labelExpr": "datum.label == 'after' ? 'after ~43-63 min' : datum.label", "strokeColor": "#262626", "fillColor": "white", "padding": 3, "rowPadding": 1, "labelOffset": 3}}}},
                        {"data": {"values": [{"ppm": 8.93, "value": 1.41, "label": "e"}]},
                         "mark": {"type": "text", "font": "Liberation Serif", "fontWeight": "bold", "fontSize": 40, "baseline": "alphabetic", "align": "center", "color": "#000000"},
                         "encoding": {"text": {"field": "label"}}},
                        {"data": {"values": [{"ppm": 5.95, "value": 1.07, "label": "1.15 mM"}]},
                         "mark": {"type": "text", "font": "Liberation Serif", "fontSize": 14, "baseline": "middle", "align": "center", "color": "#E8312F"},
                         "encoding": {"text": {"field": "label"}}},
                        {"data": {"values": [{"ppm": 5.95, "value": 0.53, "label": "0.62 mM"}]},
                         "mark": {"type": "text", "font": "Liberation Serif", "fontSize": 14, "baseline": "middle", "align": "center", "color": "#2F7DC8"},
                         "encoding": {"text": {"field": "label"}}}
                      ]
                    },
                    {
                      "data": {"values": [{"ppm": 6, "value": 0}]},
                      "mark": {"type": "text", "text": ""},
                      "encoding": {
                        "x": {"field": "ppm", "type": "quantitative", "scale": {"domain": [4.05, 8.35], "reverse": true, "nice": false, "zero": false}, "axis": {"orient": "top", "values": [4.5, 5, 5.5, 6, 6.5, 7, 7.5, 8], "labels": false, "title": null, "tickSize": -4}},
                        "y": {"field": "value", "type": "quantitative", "scale": {"domain": [-0.4, 1.5], "nice": false, "zero": false}, "axis": {"orient": "right", "values": [-0.4, -0.2, 0, 0.2, 0.4, 0.6, 0.8, 1, 1.2, 1.4], "labels": false, "title": null, "tickSize": -4}}
                      }
                    }
                  ],
                  "resolve": {"axis": {"x": "independent", "y": "independent"}}
                }
              ]
            }
          ]
        }
      ]
    }
  ]
}
